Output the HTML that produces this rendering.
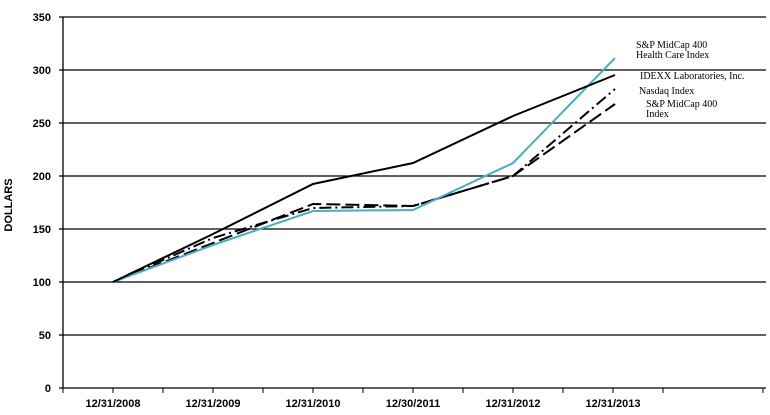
<!DOCTYPE html>
<html><head><meta charset="utf-8"><style>
body{margin:0;background:#fff;}
svg{display:block}
.yl{font:bold 11px "Liberation Sans",sans-serif;text-anchor:end}
.xl{font:bold 11px "Liberation Sans",sans-serif;text-anchor:middle}
.lg{font:10px "Liberation Serif",serif}
</style></head><body>
<svg width="770" height="415" viewBox="0 0 770 415">
<g stroke="#000" stroke-width="1.3">
<line x1="59" y1="17" x2="766" y2="17"/>
<line x1="59" y1="70" x2="766" y2="70"/>
<line x1="59" y1="123" x2="766" y2="123"/>
<line x1="59" y1="176" x2="766" y2="176"/>
<line x1="59" y1="229" x2="766" y2="229"/>
<line x1="59" y1="282" x2="766" y2="282"/>
<line x1="59" y1="335" x2="766" y2="335"/>
<line x1="59" y1="388" x2="766" y2="388"/>
<line x1="63" y1="17" x2="63" y2="388"/>
</g>
<g stroke="#000" stroke-width="1">
<line x1="63" y1="388" x2="63" y2="393"/><line x1="163" y1="388" x2="163" y2="393"/><line x1="263" y1="388" x2="263" y2="393"/><line x1="363" y1="388" x2="363" y2="393"/><line x1="463" y1="388" x2="463" y2="393"/><line x1="563" y1="388" x2="563" y2="393"/><line x1="663" y1="388" x2="663" y2="393"/><line x1="763" y1="388" x2="763" y2="393"/>
<line x1="113" y1="388" x2="113" y2="393"/><line x1="213" y1="388" x2="213" y2="393"/><line x1="313" y1="388" x2="313" y2="393"/><line x1="413" y1="388" x2="413" y2="393"/><line x1="513" y1="388" x2="513" y2="393"/><line x1="613" y1="388" x2="613" y2="393"/>
</g>
<g class="yl">
<text x="51" y="21">350</text><text x="51" y="74">300</text><text x="51" y="127">250</text><text x="51" y="180">200</text><text x="51" y="233">150</text><text x="51" y="286">100</text><text x="51" y="339">50</text><text x="51" y="392">0</text>
</g>
<g class="xl">
<text x="113" y="407">12/31/2008</text><text x="213" y="407">12/31/2009</text><text x="313" y="407">12/31/2010</text><text x="413" y="407">12/30/2011</text><text x="513" y="407">12/31/2012</text><text x="613" y="407">12/31/2013</text>
</g>
<text transform="translate(12,205) rotate(-90)" style="font:bold 11px 'Liberation Sans',sans-serif;text-anchor:middle">DOLLARS</text>
<g fill="none" stroke-width="2">
<polyline stroke="#000" stroke-dasharray="14,5" points="113,282 213,243 313,204 413,206 513,176 615,104"/>
<polyline stroke="#000" stroke-dasharray="12,4,2,4" points="113,282 213,238 313,208 413,206 513,176 615,89"/>
<polyline stroke="#4bacc6" points="113,282 213,245 313,211 413,210 513,163 615,58"/>
<polyline stroke="#000" points="113,282 213,234 313,184 413,163 513,116 615,75"/>
</g>
<g class="lg">
<text x="636" y="48">S&amp;P MidCap 400</text><text x="636" y="58">Health Care Index</text>
<text x="640" y="79">IDEXX Laboratories, Inc.</text>
<text x="639" y="94">Nasdaq Index</text>
<text x="646" y="107">S&amp;P MidCap 400</text><text x="646" y="117">Index</text>
</g>
</svg>
</body></html>
